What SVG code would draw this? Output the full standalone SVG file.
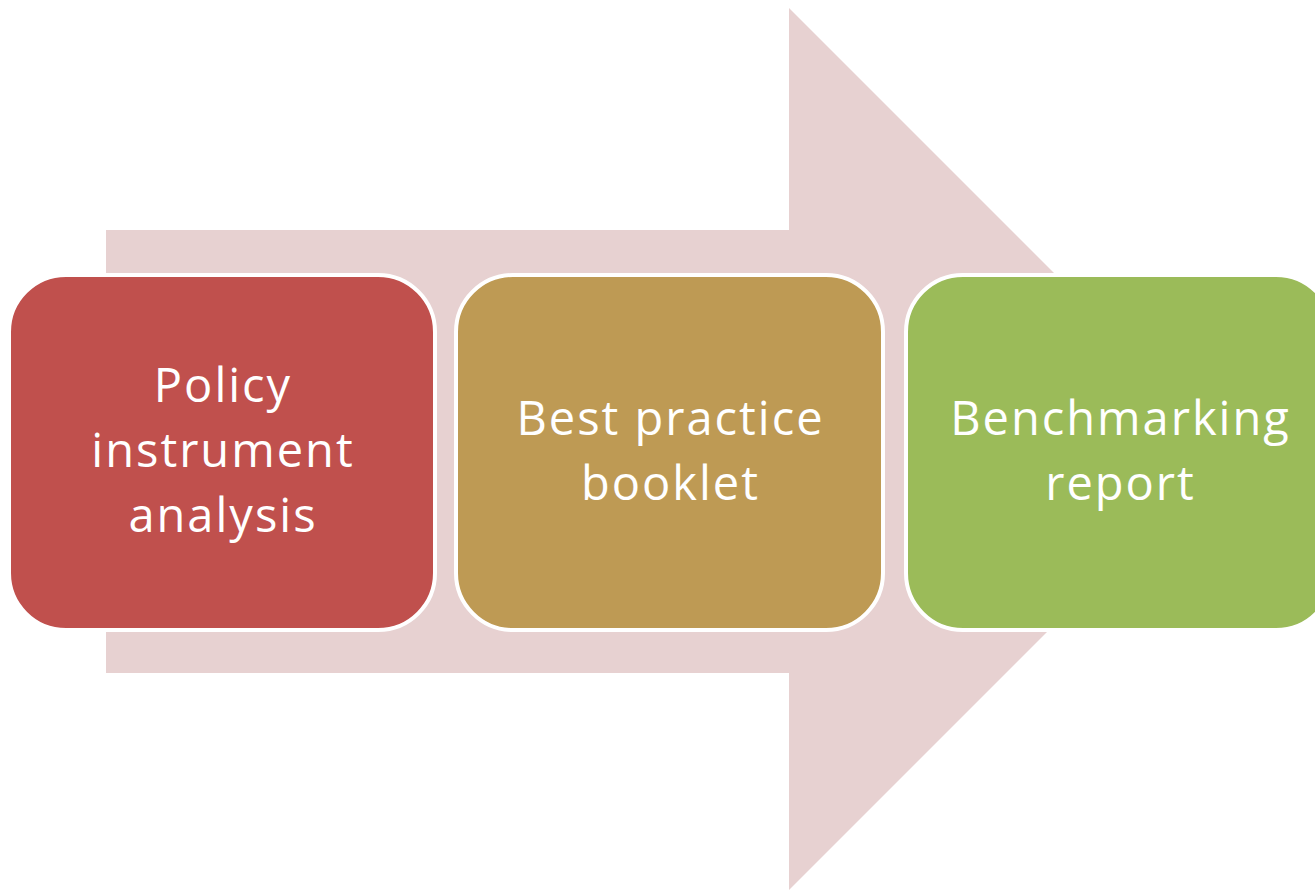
<svg xmlns="http://www.w3.org/2000/svg" width="1315" height="891" viewBox="0 0 1315 891">
<style>
.box{stroke:#FFFFFF;stroke-width:4}
.lbl{font-family:"Open Sans","Noto Sans",sans-serif;font-size:47px;letter-spacing:2px;fill:#FFFFFF;text-anchor:middle}
</style>
<rect width="1315" height="891" fill="#FFFFFF"/>
<g id="connectors">
<polygon points="106,230 789,230 789,8 1230,449 789,890 789,673 106,673" fill="#E7D1D1"/>
</g>
<g id="node1">
<rect class="box" x="9" y="275" width="426" height="355" rx="57" ry="57" fill="#C0504D"/>
<text class="lbl" x="223" y="402">Policy</text>
<text class="lbl" x="223" y="467">instrument</text>
<text class="lbl" x="223" y="532">analysis</text>
</g>
<g id="node2">
<rect class="box" x="456" y="275" width="427" height="355" rx="57" ry="57" fill="#BE9A54"/>
<text class="lbl" x="670.5" y="435">Best practice</text>
<text class="lbl" x="670.5" y="500">booklet</text>
</g>
<g id="node3">
<rect class="box" x="906" y="275" width="427" height="355" rx="57" ry="57" fill="#9BBB59"/>
<text class="lbl" x="1120.5" y="435">Benchmarking</text>
<text class="lbl" x="1120.5" y="500">report</text>
</g>
</svg>
